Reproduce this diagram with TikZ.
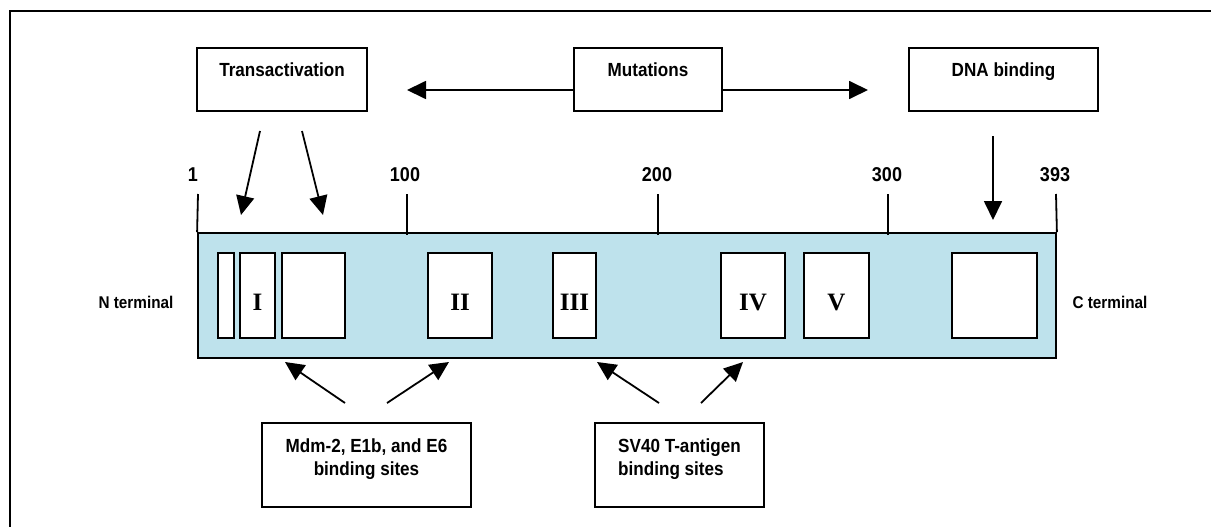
\documentclass[tikz,border=0pt]{standalone}
\usepackage{fontspec}
\setmainfont{Liberation Sans}
\newfontfamily\narrowfont[FakeStretch=0.9]{Liberation Sans}
\newfontfamily\romanfont{Liberation Serif}
\usetikzlibrary{arrows.meta}
\definecolor{chainblue}{RGB}{190,226,236}
\tikzset{
  box/.style={draw, line width=1.8pt, text height=13pt, text depth=18pt,
    font=\narrowfont\fontsize{19}{22}\selectfont\bfseries},
  sitebox/.style={draw, line width=1.8pt, minimum height=84pt,
    font=\narrowfont\fontsize{19}{23}\selectfont\bfseries},
  dom/.style={draw, line width=1.8pt, fill=white, minimum height=85pt, inner sep=0pt,
    text height=30pt, text depth=0pt, font=\romanfont\fontsize{25}{25}\selectfont\bfseries},
  arr/.style={-{Triangle[length=19pt,width=18pt]}, line width=1.8pt},
  num/.style={font=\narrowfont\fontsize{20}{20}\selectfont\bfseries},
  term/.style={font=\narrowfont\fontsize{17}{17}\selectfont\bfseries}
}
\begin{document}
\begin{tikzpicture}[x=1pt,y=-1pt]
		\useasboundingbox (0,0) rectangle (1211,527);
		% рамка
		\draw [line width=1.8pt] (1211,11) -- (10,11) -- (10,527);
		% верхние блоки
		\node [box, minimum width=170pt, minimum height=63pt] (trans) at (282,79.5) {Transactivation};
		\node [box, minimum width=148pt, minimum height=63pt] (mut) at (648,79.5) {Mutations};
		\node [box, minimum width=189pt, minimum height=63pt] (dna) at (1003.5,79.5) {DNA binding};
		% цепь
		\node [draw, line width=1.8pt, fill=chainblue, minimum width=858pt, minimum height=125pt, inner sep=0pt] (chain) at (627,295.5) {};
		\node [dom, minimum width=16pt] (d0) at (226,295.5) {};
		\node [dom, minimum width=35pt] (d1) at (257.5,295.5) {I};
		\node [dom, minimum width=63pt] (d2) at (313.5,295.5) {};
		\node [dom, minimum width=64pt] (d3) at (460,295.5) {II};
		\node [dom, minimum width=43pt] (d4) at (574.5,295.5) {III};
		\node [dom, minimum width=64pt] (d5) at (753,295.5) {IV};
		\node [dom, minimum width=65pt] (d6) at (836.5,295.5) {V};
		\node [dom, minimum width=85pt] (d7) at (994.5,295.5) {};
		% шкала
		\draw [line width=1.8pt] (198,194) -- (chain.north west);
		\draw [line width=1.8pt] (407,194) -- (407,235);
		\draw [line width=1.8pt] (658,194) -- (658,235);
		\draw [line width=1.8pt] (888,194) -- (888,235);
		\draw [line width=1.8pt] (1056,194) -- (chain.north east);
		\node [num] (n1) at (193,175) {1};
		\node [num] (n100) at (405,175) {100};
		\node [num] (n200) at (657,175) {200};
		\node [num] (n300) at (887,175) {300};
		\node [num] (n393) at (1055,175) {393};
		\node [term] (nterm) at (136,302) {N terminal};
		\node [term] (cterm) at (1110,302) {C terminal};
		% нижние блоки
		\node [sitebox, minimum width=209pt, align=center] (mdm) at (366.5,465) {Mdm-2, E1b, and E6\\binding sites\\[-14pt]\strut};
		\node [sitebox, minimum width=169pt, align=left] (sv) at (679.5,465) {SV40 T-antigen\\binding sites\\[-14pt]\strut};
		% стрелки
		\coordinate (mutL) at (407,90);
		\coordinate (mutR) at (868,90);
		\draw [arr] ([yshift=-10.5pt]mut.west) -- (mutL);
		\draw [arr] ([yshift=-10.5pt]mut.east) -- (mutR);
		\coordinate (ta1) at (260,131);
		\coordinate (tb1) at (241,215);
		\coordinate (ta2) at (302,131);
		\coordinate (tb2) at (323,215);
		\draw [arr] (ta1) -- (tb1);
		\draw [arr] (ta2) -- (tb2);
		\coordinate (da) at (993,136);
		\coordinate (db) at (993,220);
		\draw [arr] (da) -- (db);
		\coordinate (ma1) at (345,403);
		\coordinate (mb1) at (285,362);
		\coordinate (ma2) at (387,403);
		\coordinate (mb2) at (449,362);
		\draw [arr] (ma1) -- (mb1);
		\draw [arr] (ma2) -- (mb2);
		\coordinate (sa1) at (659,403);
		\coordinate (sb1) at (597,362);
		\coordinate (sa2) at (701,403);
		\coordinate (sb2) at (743,362);
		\draw [arr] (sa1) -- (sb1);
		\draw [arr] (sa2) -- (sb2);
\end{tikzpicture}
\end{document}
